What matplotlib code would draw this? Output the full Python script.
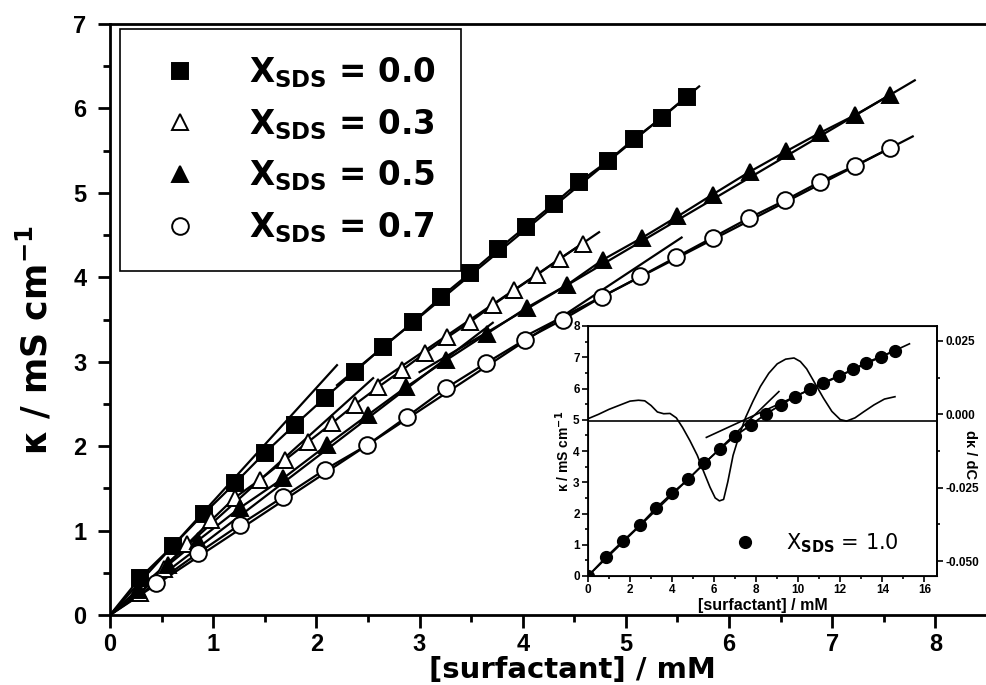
import matplotlib.pyplot as plt
from matplotlib.lines import Line2D
from matplotlib.ticker import MultipleLocator, FormatStrFormatter

plt.rcParams['font.family'] = ['Liberation Sans', 'DejaVu Sans']
plt.rcParams['font.weight'] = 'bold'
plt.rcParams['mathtext.fontset'] = 'dejavusans'

NARROW = ['Liberation Sans Narrow', 'Liberation Sans']

# main panel: kappa (mS/cm) vs [surfactant] (mM), one set per X_SDS
x_sds = ['0.0', '0.3', '0.5', '0.7']

conc_00 = [0.29, 0.61, 0.91, 1.21, 1.50, 1.79, 2.08, 2.37, 2.65, 2.94,
           3.21, 3.49, 3.76, 4.03, 4.30, 4.55, 4.83, 5.08, 5.35, 5.59]
kappa_00 = [0.44, 0.82, 1.20, 1.56, 1.92, 2.25, 2.57, 2.88, 3.18, 3.47,
            3.77, 4.05, 4.33, 4.60, 4.87, 5.13, 5.38, 5.64, 5.89, 6.14]

conc_03 = [0.29, 0.52, 0.75, 0.98, 1.21, 1.45, 1.70, 1.92, 2.15, 2.37,
           2.60, 2.83, 3.05, 3.27, 3.49, 3.71, 3.92, 4.14, 4.36, 4.58]
kappa_03 = [0.26, 0.55, 0.84, 1.12, 1.39, 1.60, 1.84, 2.05, 2.27, 2.49,
            2.70, 2.90, 3.10, 3.29, 3.47, 3.67, 3.85, 4.03, 4.22, 4.40]

conc_05 = [0.27, 0.56, 0.85, 1.26, 1.68, 2.10, 2.50, 2.87, 3.26, 3.65, 4.04,
           4.43, 4.78, 5.16, 5.50, 5.84, 6.20, 6.55, 6.88, 7.22, 7.56]
kappa_05 = [0.30, 0.59, 0.88, 1.27, 1.62, 2.01, 2.37, 2.70, 3.02, 3.33, 3.64,
            3.91, 4.21, 4.47, 4.72, 4.98, 5.25, 5.49, 5.71, 5.92, 6.16]

conc_07 = [0.45, 0.85, 1.26, 1.68, 2.08, 2.49, 2.88, 3.26, 3.64, 4.02,
           4.39, 4.77, 5.14, 5.49, 5.84, 6.19, 6.54, 6.88, 7.22, 7.56]
kappa_07 = [0.38, 0.73, 1.07, 1.40, 1.72, 2.01, 2.35, 2.69, 2.98, 3.26,
            3.50, 3.77, 4.01, 4.24, 4.47, 4.70, 4.91, 5.13, 5.32, 5.53]

# straight-line fits below / above the cmc
pre_slope = [1.345, 1.10, 0.933, 0.807]
pre_end = [2.20, 2.55, 3.71, 5.54]
post_slope = [1.008, 0.83, 0.72, 0.63]
post_icpt = [0.505, 0.60, 0.717, 0.767]
post_start = [2.2, 2.6, 3.0, 4.0]
post_end = [5.71, 4.74, 7.80, 7.78]

# inset: X_SDS = 1.0
conc_10 = [0.0, 0.85, 1.68, 2.47, 3.23, 4.00, 4.77, 5.53, 6.27, 7.01, 7.74,
           8.45, 9.16, 9.84, 10.54, 11.20, 11.92, 12.60, 13.23, 13.94, 14.58]
kappa_10 = [0.0, 0.60, 1.13, 1.63, 2.17, 2.65, 3.10, 3.61, 4.06, 4.49, 4.83,
            5.18, 5.47, 5.74, 5.97, 6.19, 6.40, 6.61, 6.83, 7.02, 7.21]
pre_10 = (0.65, 9.08)             # slope, end
post_10 = (0.31, 2.69, 5.63, 15.29)  # slope, intercept, start, end
zero_line = 4.95

# derivative d(kappa)/dC on the right axis of the inset
deriv_c = [0.0, 0.5, 1.0, 1.5, 2.0, 2.4, 2.7, 3.0, 3.3, 3.6, 3.9, 4.2, 4.5,
           4.85, 5.2, 5.5, 5.8, 6.05, 6.25, 6.45, 6.65, 6.9, 7.2, 7.5, 7.85,
           8.2, 8.6, 9.0, 9.4, 9.8, 10.1, 10.4, 10.8, 11.2, 11.6, 12.0, 12.3,
           12.7, 13.1, 13.6, 14.1, 14.6]
deriv_v = [-0.0015, 0.0000, 0.0017, 0.0031, 0.0045, 0.0048, 0.0046, 0.0030,
           0.0008, 0.0002, 0.0003, -0.0012, -0.0045, -0.0090, -0.0140, -0.0195,
           -0.0248, -0.0285, -0.0295, -0.0290, -0.0230, -0.0140, -0.0070,
           -0.0010, 0.0045, 0.0095, 0.0140, 0.0172, 0.0188, 0.0192, 0.0180,
           0.0155, 0.0105, 0.0055, 0.0010, -0.0018, -0.0023, -0.0012, 0.0008,
           0.0032, 0.0052, 0.0060]

fig = plt.figure(figsize=(9.87, 6.85), dpi=100)
ax = fig.add_axes([110 / 987, 1 - 615 / 685, 877 / 987, 591 / 685])

series = [(conc_00, kappa_00), (conc_03, kappa_03), (conc_05, kappa_05), (conc_07, kappa_07)]
styles = [dict(marker='s', mfc='black', ms=11),
          dict(marker='^', mfc='white', ms=12),
          dict(marker='^', mfc='black', ms=12),
          dict(marker='o', mfc='white', ms=12)]

handles = []
for i, (c, k) in enumerate(series):
    ax.plot([0.0] + c, [0.0] + k, color='black', lw=1.6, zorder=2)
    ax.plot([0.0, pre_end[i]], [0.0, pre_slope[i] * pre_end[i]], color='black', lw=1.6, zorder=2)
    xs = [post_start[i], post_end[i]]
    ax.plot(xs, [post_icpt[i] + post_slope[i] * v for v in xs], color='black', lw=1.6, zorder=2)
    h, = ax.plot(c, k, ls='none', mec='black', mew=1.4, zorder=3, **styles[i])
    handles.append(h)

ax.set_xlim(0, 8.5)
ax.set_ylim(0, 7)
ax.xaxis.set_major_locator(MultipleLocator(1))
ax.xaxis.set_minor_locator(MultipleLocator(0.5))
ax.yaxis.set_major_locator(MultipleLocator(1))
ax.yaxis.set_minor_locator(MultipleLocator(0.5))
ax.tick_params(which='major', direction='out', length=9, width=2, pad=8, labelsize=17)
ax.tick_params(axis='x', which='major', pad=4)
ax.tick_params(which='minor', direction='out', length=5, width=2)
for lab in ax.get_xticklabels() + ax.get_yticklabels():
    lab.set_family(NARROW)
    lab.set_fontweight('bold')
ax.spines['right'].set_visible(False)
for s in ['left', 'bottom', 'top']:
    ax.spines[s].set_linewidth(2)

ax.set_xlabel('[surfactant] / mM', fontsize=21, family='DejaVu Sans', fontweight='bold',
              va='bottom')
ax.set_ylabel(r'κ / mS cm$^{\mathbf{-1}}$', fontsize=25, family='DejaVu Sans', fontweight='bold')
ax.xaxis.set_label_coords(0.527, -69.5 / 591)
ax.yaxis.set_label_coords(-0.063, 0.465)

leg = ax.legend(handles, [r'X$_{\mathbf{SDS}}$ = ' + v for v in x_sds],
                loc='upper left', bbox_to_anchor=(0.0114, 0.9915), borderaxespad=0,
                prop={'family': 'DejaVu Sans', 'weight': 'bold', 'size': 23.5},
                borderpad=0.8, handlelength=2.1, handletextpad=1.04,
                labelspacing=0.52, fancybox=False, framealpha=1, edgecolor='black')
leg.get_frame().set_linewidth(1.2)

# inset
ax_in = fig.add_axes([588 / 987, 1 - 576 / 685, 349 / 987, 250 / 685])
ax_in.set_facecolor('white')
ax_in.plot(conc_10, kappa_10, color='black', lw=1.3, marker='o', ms=8.5, mfc='black',
           mec='black', zorder=3)
ax_in.plot([0.0, pre_10[1]], [0.0, pre_10[0] * pre_10[1]], color='black', lw=1.2)
xs = [post_10[2], post_10[3]]
ax_in.plot(xs, [post_10[1] + post_10[0] * v for v in xs], color='black', lw=1.2)
ax_in.axhline(zero_line, color='black', lw=1.2)
ax_in.set_xlim(0, 16.6)
ax_in.set_ylim(0, 8)
ax_in.xaxis.set_major_locator(MultipleLocator(2))
ax_in.xaxis.set_minor_locator(MultipleLocator(1))
ax_in.yaxis.set_major_locator(MultipleLocator(1))
ax_in.yaxis.set_minor_locator(MultipleLocator(0.5))
ax_in.tick_params(which='major', direction='out', length=4, width=1.2, pad=2, labelsize=8.5)
ax_in.tick_params(which='minor', direction='out', length=2.5, width=1.2)
for s in ax_in.spines.values():
    s.set_linewidth(1.3)
ax_in.set_xlabel('[surfactant] / mM', fontsize=11.5, family=NARROW, fontweight='bold', labelpad=1)
ax_in.set_ylabel(r'κ / mS cm$^{\mathbf{-1}}$', fontsize=10, fontweight='bold', labelpad=1)

ax_r = ax_in.twinx()
ax_r.plot(deriv_c, deriv_v, color='black', lw=1.2)
ax_r.set_ylim(-0.0551, 0.0301)
ax_r.yaxis.set_major_locator(MultipleLocator(0.025))
ax_r.yaxis.set_minor_locator(MultipleLocator(0.0125))
ax_r.yaxis.set_major_formatter(FormatStrFormatter('%.3f'))
ax_r.tick_params(which='major', direction='out', length=4, width=1.2, pad=2, labelsize=8.5)
ax_r.tick_params(which='minor', direction='out', length=2.5, width=1.2)
ax_r.spines['right'].set_linewidth(1.3)
ax_r.set_ylabel('dκ / dC', fontsize=10.5, fontweight='bold', rotation=270, va='center')
ax_r.yaxis.set_label_coords(1.095, 0.484)

for lab in ax_in.get_xticklabels() + ax_in.get_yticklabels() + ax_r.get_yticklabels():
    lab.set_family(NARROW)
    lab.set_fontweight('bold')

dot = Line2D([], [], ls='none', marker='o', ms=8.5, mfc='black', mec='black')
leg_in = ax_in.legend([dot], [r'X$_{\mathrm{SDS}}$ = 1.0'], loc='center',
                      bbox_to_anchor=(0.655, 0.13), frameon=False, handlelength=1.0,
                      handletextpad=1.5,
                      prop={'family': 'DejaVu Sans', 'size': 15, 'weight': 'normal'})

fig.savefig('out.png', dpi=100)
